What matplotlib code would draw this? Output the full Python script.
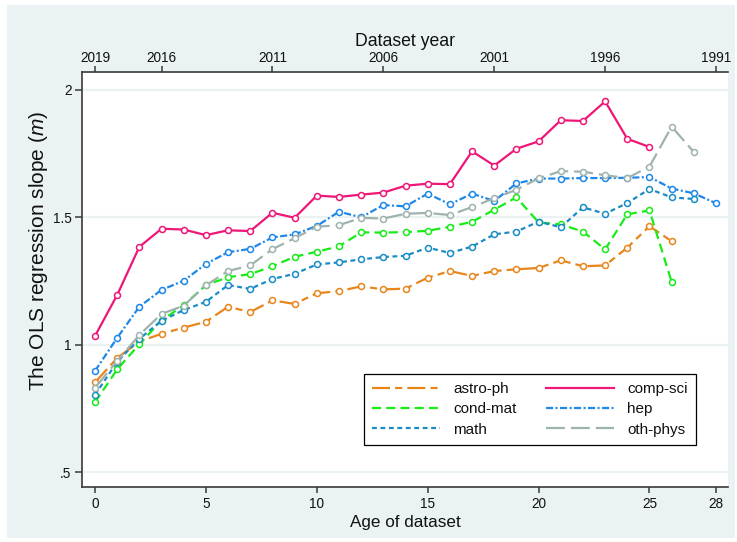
import matplotlib
matplotlib.use("Agg")
import matplotlib.pyplot as plt
from matplotlib.lines import Line2D
from matplotlib.patches import Rectangle

# ---------------- data ----------------
labels = ["astro-ph", "cond-mat", "math", "comp-sci", "hep", "oth-phys"]

astro_ph = [0.852, 0.948, 1.012, 1.043, 1.067, 1.090, 1.149, 1.128, 1.174, 1.160,
            1.202, 1.210, 1.229, 1.217, 1.220, 1.263, 1.289, 1.270, 1.289, 1.296,
            1.301, 1.331, 1.308, 1.311, 1.381, 1.465, 1.406]
comp_sci = [1.034, 1.195, 1.384, 1.455, 1.452, 1.430, 1.449, 1.446, 1.518, 1.498,
            1.585, 1.580, 1.589, 1.597, 1.624, 1.632, 1.630, 1.759, 1.703, 1.769,
            1.798, 1.881, 1.878, 1.955, 1.808, 1.776]
cond_mat = [0.774, 0.903, 1.002, 1.095, 1.155, 1.234, 1.265, 1.277, 1.308, 1.345,
            1.365, 1.386, 1.441, 1.440, 1.442, 1.447, 1.463, 1.482, 1.530, 1.578,
            1.480, 1.472, 1.444, 1.374, 1.512, 1.527, 1.246]
hep = [0.897, 1.027, 1.149, 1.215, 1.251, 1.317, 1.363, 1.376, 1.421, 1.433,
       1.466, 1.522, 1.500, 1.548, 1.543, 1.593, 1.551, 1.593, 1.564, 1.633,
       1.652, 1.652, 1.654, 1.654, 1.655, 1.658, 1.613, 1.594, 1.555]
math_ = [0.803, 0.933, 1.023, 1.094, 1.136, 1.168, 1.234, 1.219, 1.258, 1.278,
         1.315, 1.323, 1.335, 1.344, 1.349, 1.381, 1.360, 1.385, 1.433, 1.444,
         1.483, 1.461, 1.539, 1.514, 1.556, 1.611, 1.578, 1.572]
oth_phys = [0.831, 0.936, 1.038, 1.121, 1.153, 1.233, 1.289, 1.311, 1.375, 1.418,
            1.463, 1.469, 1.498, 1.495, 1.514, 1.517, 1.509, 1.540, 1.575, 1.608,
            1.653, 1.681, 1.679, 1.665, 1.654, 1.699, 1.856, 1.756]

x_ticks = [0, 5, 10, 15, 20, 25, 28]
y_ticks = [0.5, 1.0, 1.5, 2.0]
y_tick_labels = [".5", "1", "1.5", "2"]
base_year = 2019
year_ticks = [2019, 2016, 2011, 2006, 2001, 1996, 1991]

# ---------------- style ----------------
series = {
    "astro-ph": (astro_ph, "#E8861C", (8.1, 2.3, 3.2, 2.3)),
    "comp-sci": (comp_sci, "#EE1677", None),
    "cond-mat": (cond_mat, "#18EC18", (4.1, 2.3)),
    "hep": (hep, "#1E88E8", (3.2, 1.1, 0.9, 1.1)),
    "math": (math_, "#1B8CC6", (2.2, 1.6)),
    "oth-phys": (oth_phys, "#9FB3AE", (8.5, 2.7)),
}
draw_order = ["astro-ph", "comp-sci", "cond-mat", "hep", "math", "oth-phys"]

plt.rcParams["font.family"] = ["Liberation Sans", "DejaVu Sans"]
plt.rcParams["mathtext.fontset"] = "custom"
plt.rcParams["mathtext.rm"] = "Liberation Sans"
plt.rcParams["mathtext.it"] = "Liberation Sans:italic"

W, H = 737, 542
fig = plt.figure(figsize=(W / 100, H / 100), dpi=100)
fig.patch.set_facecolor("white")
fig.add_artist(Rectangle((7 / W, 1 - 538 / H), (735 - 7) / W, (538 - 5) / H,
                         transform=fig.transFigure, facecolor="#EAF2F3",
                         edgecolor="none", zorder=-10))

L, R, T, B = 82, 728, 72, 487
ax = fig.add_axes([L / W, 1 - B / H, (R - L) / W, (B - T) / H])
ax.set_facecolor("white")
ax.set_xlim(-0.586, 28.54)
ax.set_ylim(0.4414, 2.0703)

axis_col = "#3a3a3a"
txt_col = "#111111"
lw = 1.6
for name in draw_order:
    vals, col, dash = series[name]
    ages = list(range(len(vals)))
    ln, = ax.plot(ages, vals, color=col, lw=lw, marker="o", ms=4.3, mfc="white",
                  mec=col, mew=1.1, zorder=3)
    if dash is not None:
        ln.set_dashes(dash)

# grid and ticks
ax.set_yticks(y_ticks, labels=y_tick_labels)
ax.yaxis.grid(True, color="#EAF2F3", lw=1.6, zorder=0)
ax.set_axisbelow(True)
ax.set_xticks(x_ticks, labels=[str(t) for t in x_ticks])

for s in ["right", "top"]:
    ax.spines[s].set_visible(False)
for s in ["left", "bottom"]:
    ax.spines[s].set_color(axis_col)
    ax.spines[s].set_linewidth(1.2)
ax.tick_params(axis="y", direction="out", length=5, width=1.1, color=axis_col,
               labelsize=9.8, labelcolor=txt_col, pad=2.5)
ax.tick_params(axis="x", direction="out", length=4.5, width=1.1, color=axis_col,
               labelsize=9.8, labelcolor=txt_col, pad=2.5)

# top axis (dataset year)
ax2 = ax.twiny()
ax2.set_xlim(ax.get_xlim())
ax2.set_xticks([base_year - y for y in year_ticks], labels=[str(y) for y in year_ticks])
for s in ["right", "left", "bottom"]:
    ax2.spines[s].set_visible(False)
ax2.spines["top"].set_color(axis_col)
ax2.spines["top"].set_linewidth(1.2)
ax2.tick_params(axis="x", direction="out", length=4, width=1.1, color=axis_col,
                labelsize=9.8, labelcolor=txt_col, pad=1.2)
ax2.patch.set_visible(False)

# titles
fig.text((L + R) / 2 / W, 1 - 41 / H, "Dataset year", ha="center", va="center",
         fontsize=12.7, color=txt_col)
fig.text((L + R) / 2 / W, 1 - 522 / H, "Age of dataset", ha="center", va="center",
         fontsize=12.3, color=txt_col)
fig.text(39 / W, 1 - 251 / H, r"The OLS regression slope ($m$)", rotation=90,
         ha="center", va="center", fontsize=15.0, color=txt_col)

# legend
handles = []
leg_order = ["astro-ph", "cond-mat", "math", "comp-sci", "hep", "oth-phys"]
for name in leg_order:
    vals, col, dash = series[name]
    h = Line2D([], [], color=col, lw=lw)
    if dash is not None:
        h.set_dashes(dash)
    handles.append(h)
leg = ax.legend(handles, leg_order, ncol=2, loc="upper left",
                bbox_to_anchor=((364 - L) / (R - L), (B - 374) / (B - T)),
                frameon=True, fancybox=False, framealpha=1, edgecolor="black",
                fontsize=11.0, handlelength=4.45, handletextpad=0.85,
                columnspacing=1.95, borderpad=0.52, labelspacing=0.42,
                borderaxespad=0)
leg.get_frame().set_linewidth(0.9)
for t in leg.get_texts():
    t.set_color(txt_col)

fig.savefig("out.png", dpi=100, facecolor=fig.get_facecolor())
